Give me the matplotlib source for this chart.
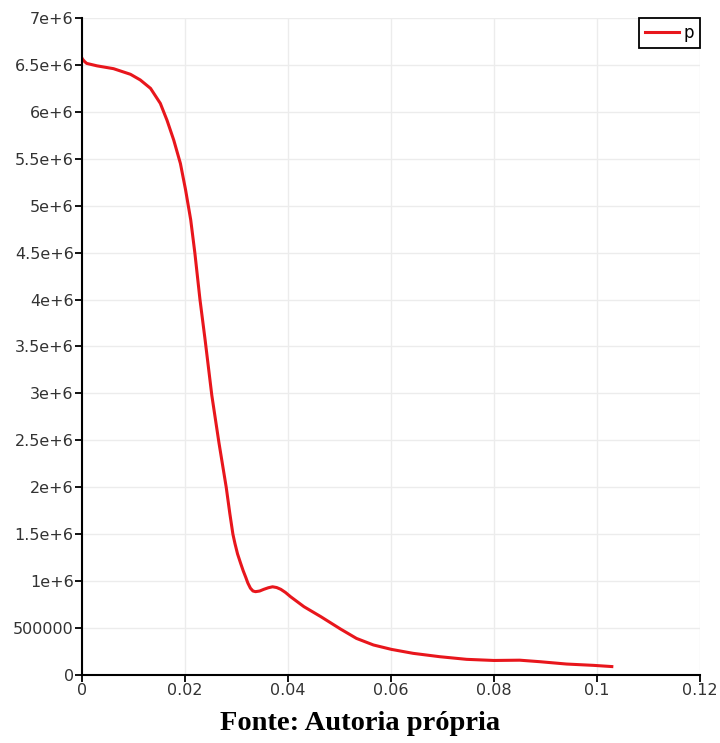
import matplotlib
matplotlib.use('Agg')
import matplotlib.pyplot as plt

# values (x in m, p in Pa)
x = [0, 0.0001, 0.0005, 0.0009, 0.0029, 0.0061, 0.0094, 0.0113, 0.0133, 0.0152, 0.0165,
     0.0178, 0.0191, 0.0201, 0.0211, 0.0219, 0.0229, 0.0239, 0.0252, 0.0266,
     0.028, 0.0287, 0.0293, 0.0297, 0.0302, 0.0308, 0.0313, 0.0318, 0.0322, 0.0327,
     0.0332, 0.0337, 0.0345, 0.0353, 0.0362, 0.0370, 0.0378,
     0.0386, 0.0395, 0.0405, 0.0431, 0.0464, 0.0502, 0.0533, 0.0566, 0.0601, 0.0643,
     0.0695, 0.0747, 0.08, 0.085, 0.0889, 0.0941, 0.0993, 0.1029]
p = [6.57e6, 6.56e6, 6.535e6, 6.516e6, 6.49e6, 6.46e6, 6.40e6, 6.34e6, 6.25e6, 6.09e6, 5.91e6,
     5.70e6, 5.45e6, 5.17e6, 4.85e6, 4.5e6, 4.0e6, 3.57e6, 2.98e6, 2.47e6,
     2.0e6, 1.72e6, 1.50e6, 1.40e6, 1.29e6, 1.19e6, 1.11e6, 1.04e6, 0.98e6, 0.925e6,
     0.895e6, 0.888e6, 0.895e6, 0.913e6, 0.93e6, 0.94e6, 0.932e6,
     0.913e6, 0.88e6, 0.834e6, 0.728e6, 0.621e6, 0.49e6, 0.39e6, 0.32e6, 0.273e6, 0.231e6,
     0.195e6, 0.167e6, 0.155e6, 0.158e6, 0.142e6, 0.117e6, 0.103e6, 0.09e6]

yticks = [0, 5e5, 1e6, 1.5e6, 2e6, 2.5e6, 3e6, 3.5e6, 4e6, 4.5e6, 5e6, 5.5e6, 6e6, 6.5e6, 7e6]
ylabels = ['0', '500000', '1e+6', '1.5e+6', '2e+6', '2.5e+6', '3e+6', '3.5e+6',
           '4e+6', '4.5e+6', '5e+6', '5.5e+6', '6e+6', '6.5e+6', '7e+6']
xticks = [0, 0.02, 0.04, 0.06, 0.08, 0.1, 0.12]
xlabels = ['0', '0.02', '0.04', '0.06', '0.08', '0.1', '0.12']

fig = plt.figure(figsize=(7.2, 7.43), dpi=100)
ax = fig.add_axes([0.114, 0.0915, 0.858, 0.8843])

ax.plot(x, p, color='#e8161c', lw=2.2, label='p', solid_joinstyle='round')

ax.set_xlim(0, 0.12)
ax.set_ylim(0, 7e6)
ax.set_xticks(xticks)
ax.set_xticklabels(xlabels)
ax.set_yticks(yticks)
ax.set_yticklabels(ylabels)
ax.tick_params(labelsize=11.5, labelcolor='#333333', length=5, width=1.3, pad=1)

ax.grid(color='#ececec', lw=1)
ax.set_axisbelow(True)
for s in ['top', 'right']:
    ax.spines[s].set_visible(False)
for s in ['left', 'bottom']:
    ax.spines[s].set_linewidth(1.5)

leg = ax.legend(loc='upper right', fontsize=12, handlelength=2.0, handletextpad=0.3,
                fancybox=False, framealpha=1, borderaxespad=0.0, borderpad=0.35)
leg.get_frame().set_edgecolor('black')
leg.get_frame().set_linewidth(1.3)

fig.text(0.5, 0.026, 'Fonte: Autoria própria', ha='center', va='center',
         fontsize=20.5, fontweight='bold', family='Liberation Serif')

fig.savefig('out.png', dpi=100)
